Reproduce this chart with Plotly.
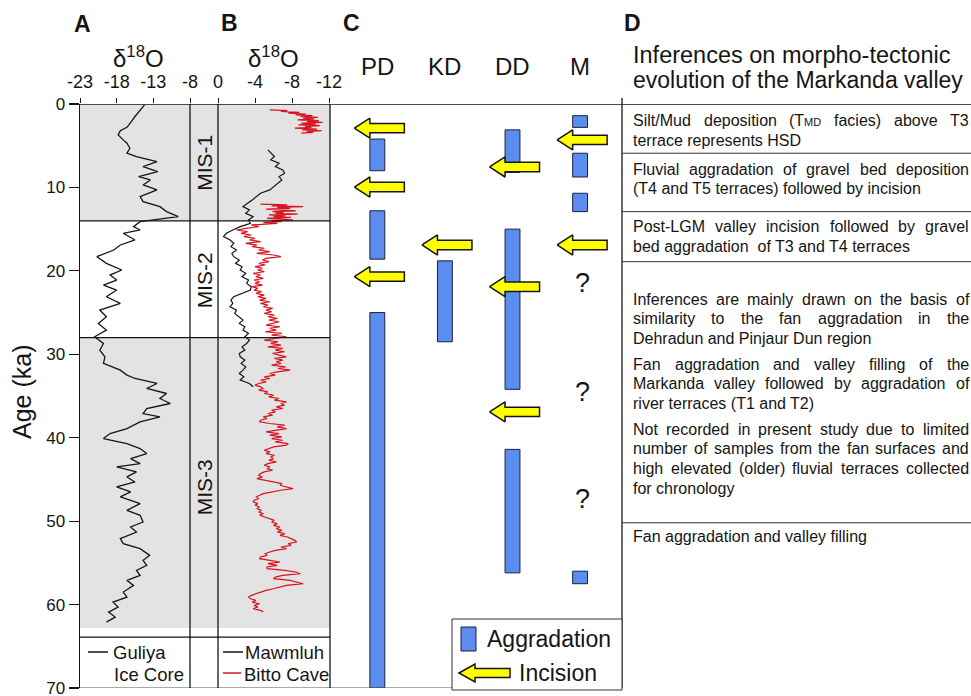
import plotly.graph_objects as go

# ---------------- data ----------------
guliya_age = [0.1, 0.7, 1.5, 2.1, 2.8, 3.2, 3.7, 4.3, 4.7, 5.3, 5.9, 6.3, 6.9, 7.5, 8.1, 8.7, 9.1, 9.7,
              10.3, 11.1, 11.7, 12.3, 12.9, 13.5, 14.1, 14.7, 15.1, 15.5, 16.3, 16.9, 17.5, 18.3, 19.1,
              19.9, 20.5, 21.1, 21.7, 22.3, 23.1, 23.9, 24.7, 25.5, 26.3, 27.1, 27.9, 28.7, 29.5, 30.3,
              31.1, 31.9, 32.5, 32.9, 33.5, 34.1, 34.7, 35.3, 35.9, 36.5, 37.1, 37.5, 38.1, 38.9, 39.5,
              40.1, 40.7, 41.3, 41.9, 42.5, 43.1, 43.5, 44.1, 44.7, 45.3, 45.9, 46.5, 47.1, 47.9, 48.7,
              49.3, 50.1, 50.7, 51.3, 52.1, 52.7, 53.3, 54.1, 54.7, 55.3, 55.9, 56.5, 57.1, 57.7, 58.5,
              59.1, 59.7, 60.3, 60.9, 61.5, 62.1]
guliya_d18o = [-14.2, -14.8, -15.5, -16.0, -16.6, -17.5, -17.8, -17.1, -16.6, -16.2, -16.6, -15.3, -12.5,
               -14.4, -12.4, -15.0, -13.4, -14.4, -12.5, -14.8, -14.4, -12.1, -11.2, -9.6, -14.8, -15.7,
               -14.8, -17.1, -15.5, -17.5, -18.4, -20.7, -19.4, -17.3, -18.9, -18.0, -19.8, -18.0, -19.4,
               -17.5, -20.3, -19.4, -20.5, -19.4, -21.0, -19.8, -20.3, -19.6, -19.8, -17.5, -16.6, -15.5,
               -12.5, -13.9, -11.2, -12.1, -10.7, -13.9, -14.4, -12.1, -14.8, -16.6, -18.9, -19.8, -16.6,
               -14.8, -13.9, -16.1, -14.8, -18.0, -15.3, -16.6, -15.5, -18.0, -16.1, -17.5, -14.8, -16.6,
               -14.8, -14.4, -16.1, -15.3, -17.5, -17.1, -14.8, -13.5, -14.4, -13.9, -15.3, -14.8, -16.6,
               -15.7, -17.1, -16.6, -18.5, -17.8, -19.1, -18.2, -19.4]

mawmluh_age = [5.5, 5.9, 6.3, 6.7, 7.1, 7.5, 7.9, 8.3, 8.7, 9.1, 9.5, 9.9, 10.3, 10.7, 11.1, 11.5, 11.9,
               12.3, 12.7, 13.1, 13.5, 13.9, 14.3, 14.7, 15.1, 15.5, 15.9, 16.3, 16.7, 17.1, 17.5, 17.9,
               18.3, 18.7, 19.1, 19.5, 19.9, 20.3, 20.7, 21.1, 21.5, 21.9, 22.3, 22.7, 23.1, 23.5, 23.9,
               24.3, 24.7, 25.1, 25.5, 25.9, 26.3, 26.7, 27.1, 27.5, 27.9, 28.3, 28.7, 29.1, 29.5, 29.9,
               30.3, 30.7, 31.1, 31.5, 31.9, 32.3, 32.7, 33.1, 33.5, 33.9]
mawmluh_d18o = [-5.4, -5.8, -6.1, -5.7, -6.6, -6.2, -7.0, -7.2, -6.6, -6.9, -6.5, -6.0, -5.6, -4.6, -4.2,
                -3.7, -3.2, -2.7, -3.4, -3.0, -3.8, -3.3, -3.5, -2.4, -1.6, -0.9, -0.6, -1.3, -1.7, -1.4,
                -2.0, -1.5, -1.7, -2.3, -1.9, -2.6, -2.4, -3.0, -2.6, -3.3, -3.1, -3.6, -3.5, -2.5, -1.7,
                -1.4, -1.6, -1.3, -2.0, -1.8, -2.2, -2.7, -2.3, -2.9, -2.7, -3.3, -2.9, -3.4, -3.1, -2.6,
                -2.9, -2.3, -2.4, -2.9, -2.5, -3.0, -2.7, -2.3, -2.8, -2.4, -3.4, -3.8]

bitto_age = [0.7, 0.8, 0.9, 1.0, 1.1, 1.2, 1.3, 1.4, 1.5, 1.6, 1.7, 1.8, 1.9, 2.0, 2.1, 2.2, 2.3, 2.4, 2.5,
             2.6, 2.7, 2.8, 2.9, 3.0, 3.1, 3.2, 3.3, 3.4, 3.5, None,
             12.0, 12.1, 12.2, 12.3, 12.4, 12.5, 12.6, 12.7, 12.8, 12.9, 13.0, 13.1, 13.2, 13.3, 13.4,
             13.5, 13.6, 13.7, 13.8, 13.9, 14.0, 14.1, 14.2, 14.3, 14.5, 14.7, 14.9, 15.1, 15.3, 15.5,
             15.7, 15.9, 16.1, 16.3, 16.5, 16.7, 16.9, 17.1, 17.3, 17.5, 17.7, 17.9, 18.1, 18.3, 18.5,
             18.7, 18.9, 19.1, 19.3, 19.5, 19.7, 19.9, 20.1, 20.3, 20.5, 20.7, 20.9, 21.1, 21.3, 21.5,
             21.7, 21.9, 22.1, 22.3, 22.5, 22.7, 22.9, 23.1, 23.3, 23.5, 23.7, 23.9, 24.1, 24.3, 24.5,
             24.7, 24.9, 25.1, 25.3, 25.5, 25.7, 25.9, 26.1, 26.3, 26.5, 26.7, 26.9, 27.1, 27.3, 27.5,
             27.7, 27.9, 28.1, 28.3, 28.5, 28.7, 28.9, 29.1, 29.3, 29.5, 29.7, 29.9, 30.1, 30.3, 30.5,
             30.7, 30.9, 31.1, 31.3, 31.5, 31.7, 31.9, 32.1, 32.3, 32.5, 32.7, 32.9, 33.1, 33.3, 33.5,
             33.7, 33.9, 34.1, 34.3, 34.5, 34.7, 34.9, 35.1, 35.3, 35.5, 35.7, 35.9, 36.1, 36.3, 36.5,
             36.7, 36.9, 37.1, 37.3, 37.5, 37.7, 37.9, 38.1, 38.3, 38.5, 38.7, 38.9, 39.1, 39.3, 39.5,
             39.7, 39.9, 40.1, 40.3, 40.5, 40.7, 40.9, 41.1, 41.3, 41.5, 41.7, 41.9, 42.1, 42.3, 42.5,
             42.7, 42.9, 43.1, 43.3, 43.5, 43.7, 43.9, 44.1, 44.3, 44.5, 44.7, 44.9, 45.1, 45.3, 45.5,
             45.7, 45.9, 46.1, 46.3, 46.5, 46.7, 46.9, 47.1, 47.3, 47.5, 47.7, 47.9, 48.1, 48.3, 48.5,
             48.7, 48.9, 49.1, 49.3, 49.5, 49.7, 49.9, 50.1, 50.3, 50.5, 50.7, 50.9, 51.1, 51.3, 51.5,
             51.7, 51.9, 52.1, 52.3, 52.5, 52.7, 52.9, 53.1, 53.3, 53.5, 53.7, 53.9, 54.1, 54.3, 54.5,
             54.7, 54.9, 55.1, 55.3, 55.5, 55.7, 55.9, 56.1, 56.3, 56.5, 56.7, 56.9, 57.1, 57.3, 57.5,
             57.7, 57.9, 58.1, 58.3, 58.5, 58.7, 58.9, 59.1, 59.3, 59.5, 59.7, 59.9, 60.1, 60.3, 60.5,
             60.7, 60.9]
bitto_d18o = [-5.6, -7.5, -6.8, -8.8, -7.6, -9.5, -8.4, -10.2, -8.9, -10.8, -9.2, -10.4, -8.6, -10.9, -9.6,
              -11.3, -9.0, -10.6, -8.7, -11.0, -9.4, -10.1, -8.3, -10.7, -9.1, -11.2, -9.6, -10.3, -9.0, None,
              -4.6, -7.5, -5.8, -9.2, -6.4, -7.8, -5.2, -6.9, -8.4, -5.9, -7.1, -6.2, -8.6, -5.5, -7.3,
              -6.0, -7.9, -5.3, -6.6, -8.1, -5.8, -6.9, -4.9, -6.4, -3.6, -4.4, -3.0, -2.0, -3.2, -2.5,
              -3.6, -2.8, -4.0, -3.4, -4.6, -3.0, -4.2, -3.7, -5.0, -4.4, -5.6, -4.2, -6.0, -6.8, -5.2,
              -4.8, -5.5, -4.4, -5.1, -4.0, -4.8, -4.3, -5.0, -3.8, -4.6, -4.1, -4.9, -3.9, -4.5, -4.0,
              -4.8, -3.7, -4.3, -3.9, -4.7, -4.1, -5.0, -4.3, -5.2, -4.5, -5.6, -4.6, -5.4, -4.9, -5.9,
              -5.2, -5.8, -5.0, -6.1, -5.4, -6.4, -5.5, -6.6, -6.0, -5.2, -6.7, -5.6, -6.3, -5.1, -6.9,
              -5.8, -7.4, -6.0, -5.0, -6.5, -5.7, -6.8, -5.4, -7.0, -6.2, -7.2, -5.9, -6.6, -7.4, -6.1,
              -7.0, -6.3, -6.8, -5.8, -7.3, -6.5, -7.8, -6.4, -5.6, -6.2, -5.0, -5.6, -4.6, -5.2, -4.4,
              -4.0, -4.6, -4.9, -4.4, -5.4, -5.0, -6.0, -5.5, -6.6, -6.1, -7.4, -6.8, -7.2, -6.3, -7.0,
              -5.8, -6.2, -5.4, -5.9, -4.9, -5.3, -4.6, -4.5, -5.6, -7.2, -6.4, -7.4, -6.0, -5.2, -6.6,
              -5.6, -6.9, -5.8, -7.0, -6.2, -7.6, -7.4, -6.0, -5.4, -5.0, -5.6, -5.2, -6.1, -5.7, -6.0,
              -5.5, -6.3, -5.4, -5.0, -5.6, -5.3, -5.9, -5.0, -4.6, -4.4, -4.8, -4.2, -5.2, -6.3, -6.9,
              -6.7, -7.6, -8.1, -6.8, -5.6, -4.9, -4.5, -4.1, -4.4, -3.9, -3.8, -4.3, -4.0, -4.5, -4.2,
              -4.7, -4.4, -4.9, -4.5, -5.0, -5.6, -6.1, -5.8, -6.4, -6.0, -6.7, -6.3, -6.9, -6.4, -7.2,
              -6.7, -7.5, -7.9, -8.3, -8.5, -7.6, -7.9, -6.8, -7.4, -6.2, -5.6, -5.1, -5.3, -4.6, -4.5,
              -5.8, -6.7, -5.4, -6.4, -5.3, -5.3, -7.2, -8.4, -8.9, -7.0, -6.2, -6.0, -7.8, -8.6, -9.2,
              -7.4, -6.5, -6.0, -5.2, -4.6, -4.2, -3.6, -3.3, -3.5, -4.1, -3.7, -4.5, -3.9, -4.3, -3.8,
              -4.6, -4.9]

columns = ["PD", "KD", "DD", "M"]
aggr_col = ["PD", "PD", "PD", "KD", "DD", "DD", "DD", "M", "M", "M", "M"]
aggr_start = [4.2, 12.8, 25.0, 18.8, 3.1, 15.0, 41.4, 1.4, 5.9, 10.7, 56.0]
aggr_end = [8.0, 18.6, 70.0, 28.5, 8.2, 34.2, 56.2, 2.8, 8.75, 12.9, 57.5]
inc_col = ["PD", "PD", "PD", "KD", "DD", "DD", "DD", "M", "M"]
inc_age = [2.9, 9.95, 20.7, 16.9, 7.55, 21.9, 36.9, 4.3, 16.9]
unknown_col = ["M", "M", "M"]
unknown_age = [21.4, 34.5, 47.3]

mis_labels = ["MIS-1", "MIS-2", "MIS-3"]
mis_mid = [7.1, 21.2, 46.0]
mis_bounds = [14.0, 28.0]
shaded_bands = [(0.0, 14.0), (28.0, 62.8)]
legend_sep_age = 63.9

a_ticks = [-23, -18, -13, -8]
b_ticks = [0, -4, -8, -12]
age_ticks = [0, 10, 20, 30, 40, 50, 60, 70]

d_bounds = [5.9, 12.9, 18.9, 50.2]
d_heading = ["Inferences on morpho-tectonic", "evolution of the Markanda valley"]
d_paragraphs = [
    ["Silt/Mud deposition (TMD facies) above T3", "terrace represents HSD"],
    ["Fluvial aggradation of gravel bed deposition", "(T4 and T5 terraces) followed by incision"],
    ["Post-LGM valley incision followed by  gravel", "bed aggradation  of T3 and T4 terraces"],
    ["Inferences are mainly drawn on the basis of", "similarity to the fan aggradation in the",
     "Dehradun and Pinjaur Dun region"],
    ["Fan aggradation and valley filling of the", "Markanda valley followed by aggradation of",
     "river terraces (T1 and T2)"],
    ["Not recorded in present study due to limited", "number of samples from the fan surfaces and",
     "high elevated (older) fluvial terraces collected", "for chronology"],
    ["Fan aggradation and valley filling"],
]
d_first_y = [121, 169, 227, 299, 364, 429, 536]   # pixel rows of first lines

# ---------------- helpers ----------------
WF, HF = 971, 696
def px(x):
    return x / WF
def py(y):
    return 1 - y / HF

FONT = "Liberation Sans, Arial, Helvetica, sans-serif"
INK = "#151515"
BLUE = "#5b8def"
YELLOW = "#ffff00"
GRAY = "#e3e3e3"

AW = {' ': 278, '(': 333, ')': 333, '-': 333, '.': 278, '/': 278, ',': 278}
for ch in "0123456789":
    AW[ch] = 556
AW.update({'A': 667, 'B': 667, 'C': 722, 'D': 722, 'E': 667, 'F': 611, 'G': 778, 'H': 722, 'I': 278,
           'J': 500, 'K': 667, 'L': 556, 'M': 833, 'N': 722, 'O': 778, 'P': 667, 'Q': 778, 'R': 722,
           'S': 667, 'T': 611, 'U': 722, 'V': 667, 'W': 944, 'X': 667, 'Y': 667, 'Z': 611,
           'a': 556, 'b': 556, 'c': 500, 'd': 556, 'e': 556, 'f': 278, 'g': 556, 'h': 556, 'i': 222,
           'j': 222, 'k': 500, 'l': 222, 'm': 833, 'n': 556, 'o': 556, 'p': 556, 'q': 556, 'r': 333,
           's': 500, 't': 278, 'u': 556, 'v': 500, 'w': 722, 'x': 500, 'y': 500, 'z': 500})

def tw(s, size):
    return sum(AW.get(c, 556) for c in s) * size / 1000.0

fig = go.Figure()

# ---------------- panel A / B curves ----------------
fig.add_trace(go.Scatter(x=guliya_d18o, y=guliya_age, mode="lines", xaxis="x", yaxis="y",
                         line=dict(color=INK, width=1.3), hoverinfo="skip"))
fig.add_trace(go.Scatter(x=mawmluh_d18o, y=mawmluh_age, mode="lines", xaxis="x2", yaxis="y",
                         line=dict(color=INK, width=1.2), hoverinfo="skip"))
fig.add_trace(go.Scatter(x=bitto_d18o, y=bitto_age, mode="lines", xaxis="x2", yaxis="y",
                         line=dict(color="#d7141f", width=1.2), hoverinfo="skip", connectgaps=False))

# ---------------- panel C bars & arrows ----------------
fig.add_trace(go.Bar(x=[columns.index(c) for c in aggr_col],
                     y=[e - s for s, e in zip(aggr_start, aggr_end)],
                     base=aggr_start, width=0.22, xaxis="x3", yaxis="y",
                     marker=dict(color=BLUE, line=dict(color="#1c2040", width=1)),
                     hoverinfo="skip"))

ax, ay = [], []
for c, a in zip(inc_col, inc_age):
    k = columns.index(c)
    pts = [(k - 0.34, a), (k - 0.11, a - 1.2), (k - 0.11, a - 0.56), (k + 0.40, a - 0.56),
           (k + 0.40, a + 0.56), (k - 0.11, a + 0.56), (k - 0.11, a + 1.2), (k - 0.34, a)]
    ax += [p[0] for p in pts] + [None]
    ay += [p[1] for p in pts] + [None]
fig.add_trace(go.Scatter(x=ax, y=ay, mode="lines", fill="toself", fillcolor=YELLOW,
                         line=dict(color=INK, width=1.5), xaxis="x3", yaxis="y", hoverinfo="skip"))

# ---------------- shapes ----------------
shapes = []
for a0, a1 in shaded_bands:
    shapes.append(dict(type="rect", xref="paper", yref="y", x0=px(80), x1=px(330), y0=a0, y1=a1,
                       fillcolor=GRAY, line_width=0, layer="below"))
LC = dict(color=INK, width=1.3)
shapes.append(dict(type="line", xref="paper", yref="y", x0=px(80), x1=1.0, y0=0, y1=0, line=LC))
shapes.append(dict(type="line", xref="paper", yref="y", x0=px(80), x1=px(622), y0=70, y1=70,
                   line=dict(color="#555", width=1)))
for xv in [190, 218, 330, 622]:
    shapes.append(dict(type="line", xref="paper", yref="y", x0=px(xv), x1=px(xv), y0=0, y1=70, line=LC))
shapes.append(dict(type="line", xref="paper", yref="paper", x0=px(622), x1=px(622), y0=py(104), y1=py(98),
                   line=LC))
for b in mis_bounds:
    shapes.append(dict(type="line", xref="paper", yref="y", x0=px(80), x1=px(330), y0=b, y1=b, line=LC))
shapes.append(dict(type="line", xref="paper", yref="y", x0=px(80), x1=px(330), y0=legend_sep_age,
                   y1=legend_sep_age, line=LC))
for b in d_bounds:
    shapes.append(dict(type="line", xref="paper", yref="y", x0=px(622), x1=1.0, y0=b, y1=b,
                       line=dict(color="#333", width=1)))
shapes.append(dict(type="line", xref="paper", yref="paper", x0=px(88), x1=px(108), y0=py(652), y1=py(652),
                   line=dict(color=INK, width=1.5)))
shapes.append(dict(type="line", xref="paper", yref="paper", x0=px(223), x1=px(243), y0=py(652), y1=py(652),
                   line=dict(color=INK, width=1.5)))
shapes.append(dict(type="line", xref="paper", yref="paper", x0=px(223), x1=px(241), y0=py(673), y1=py(673),
                   line=dict(color="#d7141f", width=1.5)))
shapes.append(dict(type="rect", xref="paper", yref="paper", x0=px(452), x1=px(622), y0=py(690), y1=py(619),
                   fillcolor="white", line=dict(color="#333", width=1)))
shapes.append(dict(type="rect", xref="paper", yref="paper", x0=px(461), x1=px(476), y0=py(651), y1=py(627),
                   fillcolor=BLUE, line=dict(color="#1c2040", width=1)))
def P(x, y):
    return f"{px(x):.5f},{py(y):.5f}"
cy = 673
arrow_path = ("M " + P(459, cy) + " L " + P(475, cy - 9) + " L " + P(475, cy - 4.5) + " L " +
              P(510, cy - 4.5) + " L " + P(510, cy + 4.5) + " L " + P(475, cy + 4.5) + " L " +
              P(475, cy + 9) + " Z")
shapes.append(dict(type="path", xref="paper", yref="paper", path=arrow_path, fillcolor=YELLOW,
                   line=dict(color=INK, width=1.5)))

# ---------------- annotations ----------------
ann = []
def text(x, y, s, size, xanchor="center", yanchor="middle", color=INK, xref="paper", yref="paper",
         angle=0):
    ann.append(dict(x=x, y=y, xref=xref, yref=yref, text=s, showarrow=False, xanchor=xanchor,
                    yanchor=yanchor, textangle=angle, font=dict(family=FONT, size=size, color=color)))

text(px(82), py(24), "<b>A</b>", 23)
text(px(229), py(23), "<b>B</b>", 23)
text(px(351), py(23), "<b>C</b>", 23)
text(px(632), py(23), "<b>D</b>", 23)
text(px(138), py(57), "δ<sup>18</sup>O", 24)
text(px(273), py(57), "δ<sup>18</sup>O", 24)
text(px(22), py(392), "Age (ka)", 25, angle=-90)

for i, c in enumerate(columns):
    text(i, py(67), c, 24, xref="x3")
for c, a in zip(unknown_col, unknown_age):
    text(columns.index(c) + 0.03, a, "?", 27, xref="x3", yref="y")
for lab, m in zip(mis_labels, mis_mid):
    text(px(204.5), m, lab, 21, yref="y", angle=-90)

text(px(111), py(652), "Guliya", 18.5, xanchor="left")
text(px(112), py(674), "Ice Core", 18.5, xanchor="left")
text(px(243), py(652), "Mawmluh", 18.5, xanchor="left")
text(px(242), py(674), "Bitto Cave", 18.5, xanchor="left")
text(px(485), py(639), "Aggradation", 23, xanchor="left")
text(px(517), py(673), "Incision", 23, xanchor="left")

text(px(631), py(55), d_heading[0], 23.5, xanchor="left")
text(px(631), py(80), d_heading[1], 23, xanchor="left")

FS = 16
X0, X1 = 631, 967
STEP = 19.7
for lines, y0 in zip(d_paragraphs, d_first_y):
    for j, line in enumerate(lines):
        yy = y0 + j * STEP
        last = (j == len(lines) - 1)
        if last:
            s = line.replace("TMD", "T<span style='font-size:11px'>MD</span>")
            text(px(X0), py(yy), s, FS, xanchor="left")
            continue
        words = line.split()
        widths = []
        htmls = []
        for w in words:
            if "TMD" in w:
                pre, post = w.split("TMD")
                widths.append(tw(pre + "T", FS) + tw("MD", 11) + tw(post, FS))
                htmls.append(pre + "T<span style='font-size:11px'>MD</span>" + post)
            else:
                widths.append(tw(w, FS))
                htmls.append(w)
        gap = (X1 - X0 - sum(widths)) / (len(words) - 1)
        xx = X0
        for w, h in zip(widths, htmls):
            text(px(xx), py(yy), h, FS, xanchor="left")
            xx += w + gap

# ---------------- layout ----------------
axis_common = dict(showgrid=False, zeroline=False, automargin=False)
fig.update_layout(
    template="none",
    width=WF, height=HF, margin=dict(l=0, r=0, t=0, b=0, pad=0, autoexpand=False),
    paper_bgcolor="white", plot_bgcolor="rgba(0,0,0,0)", showlegend=False,
    font=dict(family=FONT, color=INK),
    xaxis=dict(domain=[px(80), px(190)], range=[-23, -8], side="top", anchor="y",
               tickvals=a_ticks, ticktext=[str(v) for v in a_ticks], ticks="outside", ticklen=5,
               tickcolor=INK, tickfont=dict(size=18, color=INK), showline=False, ticklabelstandoff=3,
               **axis_common),
    xaxis2=dict(domain=[px(218), px(329)], range=[0, -12], side="top", anchor="y",
                tickvals=b_ticks, ticktext=[str(v) for v in b_ticks], ticks="outside", ticklen=5,
                tickcolor=INK, tickfont=dict(size=18, color=INK), showline=False, ticklabelstandoff=3,
                **axis_common),
    xaxis3=dict(domain=[px(330), px(622)], range=[-0.7, 3.62], anchor="y", visible=False, **axis_common),
    yaxis=dict(domain=[py(688), py(104)], range=[70, 0], anchor="x", tickvals=age_ticks,
               ticks="outside", ticklen=10, tickcolor=INK, tickwidth=1.2, showline=True,
               linecolor=INK, linewidth=1.4, tickfont=dict(size=17, color=INK),
               ticklabeloverflow="allow", **axis_common),
    yaxis2=dict(overlaying="y", anchor="x2", side="left", range=[70, 0], tickvals=age_ticks[1:-1],
                ticks="outside", ticklen=4, tickcolor=INK, showticklabels=False, showline=False,
                **axis_common),
    shapes=shapes, annotations=ann, bargap=0,
)

# remove the default page margin so the 971x696 figure fills the window exactly
fig.write_html("out.html", config={"displayModeBar": False, "staticPlot": True},
               post_script="document.body.style.margin='0px';document.body.style.overflow='hidden';")
